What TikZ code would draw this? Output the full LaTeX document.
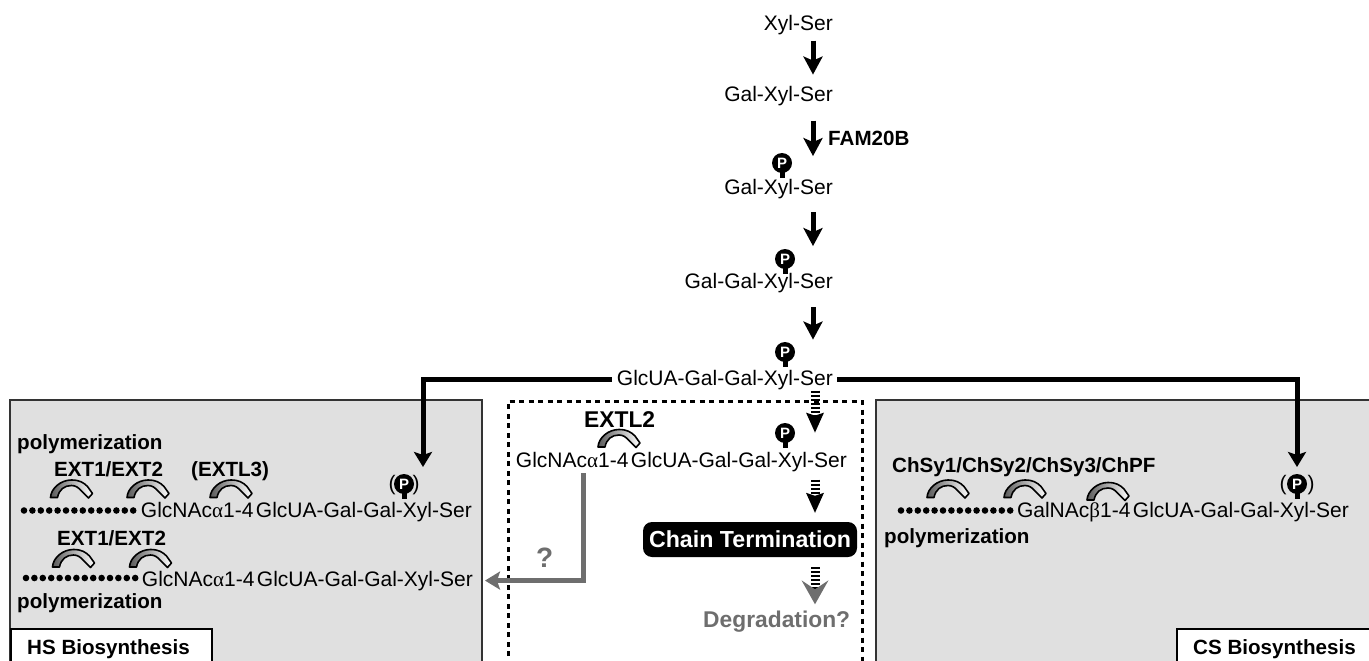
\documentclass[tikz,border=0pt]{standalone}
\usepackage{fontspec}
\setmainfont{Liberation Sans}
\newfontfamily\greekfont{Liberation Serif}
\usetikzlibrary{
  calc,                  % Coordinate math
  arrows.meta            % Stealth tips with set sizes
}

% Colours of the panels and of the uncertain route
\definecolor{panelgray}{gray}{0.88}
\definecolor{routegray}{gray}{0.43}

\tikzset{
  sugar/.style={font=\fontsize{21}{25}\selectfont, inner sep=0pt, anchor=base east},
  enzyme/.style={font=\bfseries\fontsize{20.6}{25}\selectfont, inner sep=0pt, anchor=base west},
  paren/.style={font=\fontsize{21}{25}\selectfont, inner sep=0pt},
  phos/.style={circle, fill=black, text=white, inner sep=0pt, minimum size=20pt,
    font=\bfseries\fontsize{15}{15}\selectfont},
  stem/.style={line width=5pt},
  panel/.style={fill=panelgray, draw=black!80, line width=1.5pt},
  tagbox/.style={fill=white, draw=black, line width=2pt},
  flow/.style={line width=5pt, -{Stealth[length=18pt, width=19pt, inset=4pt]}},
  route/.style={line width=5pt, -{Stealth[length=15pt, width=18pt, inset=3pt]}},
  stripes/.style={line width=9pt, dash pattern=on 2pt off 2pt,
    -{Stealth[length=20pt, width=18pt, inset=3pt, line width=0pt]}},
  bend/.pic={
    \draw[line width=1.6pt, line join=round, left color=black!65, right color=white]
      (0,0) .. controls (0.5,-9) and (10,-17.5) .. (21,-17.5)
      .. controls (29,-17.5) and (33,-15) .. (37,-11) -- (42,-4) -- (38,0.5) -- (31,-6.5)
      .. controls (28,-10) and (25,-12) .. (21,-12)
      .. controls (14,-12) and (8.5,-8) .. (7,0) -- cycle;
  }
}

% Phosphate mark: name, x, y
\newcommand{\phosmark}[3]{%
  \draw[stem] (#2,#3) -- ++(0,15);
  \node[phos] (#1) at (#2,#3) {P};
}
% Chain of dots: first x, y
\newcommand{\dotchain}[2]{%
  \foreach \i in {0,...,13}
    \fill (#1+\i*8.4, #2) circle (3.3);
}

\begin{document}
\begin{tikzpicture}[x=1pt, y=-1pt]
        \useasboundingbox (0,0) rectangle (1369,661);

        % Grey panels, open at the bottom
        \draw[panel] (10,675) -- (10,400) -- (482,400) -- (482,675);
        \draw[panel] (876,675) -- (876,400) -- (1380,400) -- (1380,675);
        \draw[line width=3pt, dash pattern=on 5pt off 4.5pt] (508,675) -- (508,401) -- (862,401) -- (862,675);

        % Corner tags
        \draw[tagbox] (11,629) rectangle (212,675);
        \draw[tagbox] (1177,629) rectangle (1380,675);
        \node[enzyme] (hstag) at (27,654) {HS Biosynthesis};
        \node[enzyme] (cstag) at (1193,654) {CS Biosynthesis};

        % Linker steps in the middle column
        \coordinate (axis) at (813,0);
        \coordinate (sideaxis) at (815,0);
        \node[sugar] (xyl) at (833,31) {Xyl-Ser};
        \node[sugar] (galone) at (833,102) {Gal-Xyl-Ser};
        \node[sugar] (galp) at (833,194.5) {Gal-Xyl-Ser};
        \node[sugar] (galgal) at (833,288.5) {Gal-Gal-Xyl-Ser};
        \node[sugar] (glcua) at (833,385) {GlcUA-Gal-Gal-Xyl-Ser};
        \node[enzyme] (fam) at (828,145) {FAM20B};
        \phosmark{pone}{782}{163}
        \phosmark{ptwo}{785}{259}
        \phosmark{pthree}{785}{352}

        % Arrows down the column
        \draw[flow, shorten <=5pt, shorten >=12pt] (xyl.south -| axis) -- (galone.north -| axis);
        \draw[flow, shorten <=14pt, shorten >=23pt] (galone.south -| axis) -- (galp.north -| axis);
        \draw[flow, shorten <=13pt, shorten >=27pt] (galp.south -| axis) -- (galgal.north -| axis);
        \draw[flow, shorten <=14pt, shorten >=30pt] (galgal.south -| axis) -- (glcua.north -| axis);

        % Routes to the two side panels
        \coordinate (hsend) at (423,467);
        \coordinate (csend) at (1297,467);
        \draw[route, shorten <=5pt] (glcua.west) -| (hsend);
        \draw[route, shorten <=4pt] (glcua.east) -| (csend);

        % HS panel, upper chain
        \node[enzyme] (hspolya) at (17,449) {polymerization};
        \node[enzyme] (hsexta) at (54,476) {EXT1/EXT2};
        \node[enzyme] (hsextl) at (191,476) {(EXTL3)};
        \pic at (50.5,497.5) {bend};
        \pic at (127,497.5) {bend};
        \pic at (210,497.5) {bend};
        \dotchain{24}{510.5}
        \node[sugar] (hschaina) at (472,517) {GlcNAc{\greekfont α}1-4\kern2.5pt GlcUA-Gal-Gal-Xyl-Ser};
        \node[paren] (hsopen) at (392,485) {(};
        \node[paren] (hsclose) at (416,485) {)};
        \phosmark{phs}{404}{484}

        % HS panel, lower chain
        \node[enzyme] (hsextb) at (57,545) {EXT1/EXT2};
        \pic at (52.5,567) {bend};
        \pic at (129.5,567) {bend};
        \dotchain{26}{578}
        \node[sugar] (hschainb) at (473,586) {GlcNAc{\greekfont α}1-4\kern2.5pt GlcUA-Gal-Gal-Xyl-Ser};
        \node[enzyme] (hspolyb) at (17,608) {polymerization};

        % Dashed column
        \node[enzyme, font=\bfseries\fontsize{22.8}{26}\selectfont] (extl) at (584,427) {EXTL2};
        \pic at (598,447) {bend};
        \node[sugar] (extlchain) at (847,467) {GlcNAc{\greekfont α}1-4\kern2.5pt GlcUA-Gal-Gal-Xyl-Ser};
        \phosmark{pext}{785}{433}
        \node[fill=black, text=white, rounded corners=9pt, minimum width=214pt, minimum height=35pt,
          inner sep=0pt, font=\bfseries\fontsize{23.2}{28}\selectfont] (chain) at (750,539.5) {Chain Termination};
        \node[enzyme, font=\bfseries\fontsize{22.8}{26}\selectfont, text=routegray] (degrade) at (703,627) {Degradation?};
        \node[enzyme, font=\bfseries\fontsize{28}{32}\selectfont, text=routegray] (query) at (536,567) {?};

        % Striped arrows
        \draw[stripes, shorten <=1pt, shorten >=19pt] (glcua.south -| sideaxis) -- (extlchain.north -| sideaxis);
        \draw[stripes, shorten <=8pt, shorten >=9pt] (extlchain.south -| sideaxis) -- (chain.north -| sideaxis);
        \draw[line width=9pt, dash pattern=on 2pt off 2pt,
          -{Stealth[length=24pt, width=27pt, inset=9pt, line width=0pt, fill=routegray, color=routegray]},
          shorten <=10pt, shorten >=6pt] (chain.south -| sideaxis) -- (degrade.north -| sideaxis);

        % Uncertain route back to the HS panel
        \coordinate (qstart) at (583,473);
        \draw[route, draw=routegray, shorten >=12pt] (qstart) |- (hschainb.east);

        % CS panel
        \node[enzyme] (chsy) at (892,472) {ChSy1/ChSy2/ChSy3/ChPF};
        \pic at (927,497.5) {bend};
        \pic at (1004,497.5) {bend};
        \pic at (1087,500) {bend};
        \dotchain{901}{510.5}
        \node[sugar] (cschain) at (1349,517) {GalNAc{\greekfont β}1-4\kern2.5pt GlcUA-Gal-Gal-Xyl-Ser};
        \node[enzyme] (cspoly) at (884,543) {polymerization};
        \node[paren] (csopen) at (1283,485) {(};
        \node[paren] (csclose) at (1311,485) {)};
        \phosmark{pcs}{1297}{484}
\end{tikzpicture}
\end{document}
